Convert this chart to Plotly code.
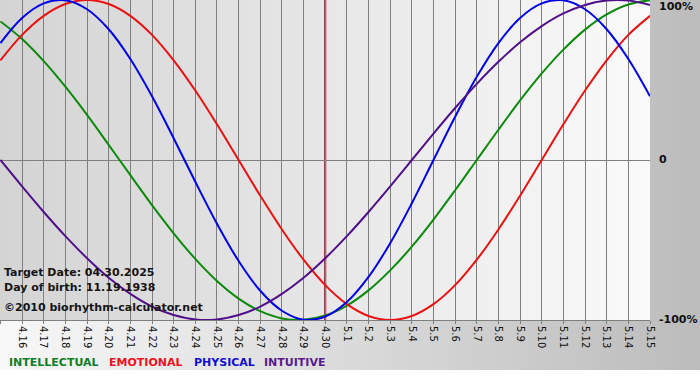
import plotly.graph_objects as go

# ---------------- data ----------------
day_labels = ["4.15", "4.16", "4.17", "4.18", "4.19", "4.20", "4.21", "4.22",
              "4.23", "4.24", "4.25", "4.26", "4.27", "4.28", "4.29", "4.30",
              "5.1", "5.2", "5.3", "5.4", "5.5", "5.6", "5.7", "5.8", "5.9",
              "5.10", "5.11", "5.12", "5.13", "5.14", "5.15"]

intellectual = [86.6, 75.6, 61.8, 45.8, 28.2, 9.5, -9.5, -28.2, -45.8, -61.8,
                -75.6, -86.6, -94.5, -99.0, -99.9, -97.2, -91.0, -81.5, -69.0,
                -54.1, -37.2, -18.9, 0.0, 18.9, 37.2, 54.1, 69.0, 81.5, 91.0,
                97.2, 99.9]
emotional = [62.3, 78.2, 90.1, 97.5, 100.0, 97.5, 90.1, 78.2, 62.3, 43.4,
             22.3, 0.0, -22.3, -43.4, -62.3, -78.2, -90.1, -97.5, -100.0,
             -97.5, -90.1, -78.2, -62.3, -43.4, -22.3, 0.0, 22.3, 43.4, 62.3,
             78.2, 90.1]
physical = [73.1, 88.8, 97.9, 99.8, 94.2, 81.7, 63.1, 39.8, 13.6, -13.6,
            -39.8, -63.1, -81.7, -94.2, -99.8, -97.9, -88.8, -73.1, -52.0,
            -27.0, 0.0, 27.0, 52.0, 73.1, 88.8, 97.9, 99.8, 94.2, 81.7, 63.1,
            39.8]
intuitive = [0.0, -16.5, -32.5, -47.6, -61.4, -73.6, -83.7, -91.6, -96.9,
             -99.7, -99.7, -96.9, -91.6, -83.7, -73.6, -61.4, -47.6, -32.5,
             -16.5, 0.0, 16.5, 32.5, 47.6, 61.4, 73.6, 83.7, 91.6, 96.9, 99.7,
             99.7, 96.9]

target_label = "4.30"
y_tick_values = [100, 0, -100]
y_tick_labels = ["100%", "0", "-100%"]
legend_names = ["INTELLECTUAL", "EMOTIONAL", "PHYSICAL", "INTUITIVE"]
info_lines = ["Target Date: 04.30.2025", "Day of birth: 11.19.1938",
              "\u00a92010 biorhythm-calculator.net"]

# ---------------- styling ----------------
W, H = 700, 380
PW, PH = 650, 320  # plot area in px
FONT = "DejaVu Sans, Verdana, sans-serif"

def px_x(px):
    return px / PW

def px_y(py):
    return (PH - py) / PH

x_idx = list(range(len(day_labels)))
target_x = day_labels.index(target_label)

curve_colors = ["#0a8a0a", "#e81010", "#0000e6", "#50108a"]
legend_colors = ["#0f7d28", "#ee1122", "#1010cc", "#5a1a8c"]
series = [intellectual, emotional, physical, intuitive]

fig = go.Figure()
for name, vals, col in zip(legend_names, series, curve_colors):
    fig.add_trace(go.Scatter(x=x_idx, y=vals, mode="lines", name=name,
                             line=dict(color=col, width=2, shape="spline"),
                             hoverinfo="skip", showlegend=False))

shapes = []
# outer gradient (light left -> gray right), 0..700 px, 0..370 px
n_out = 70
for i in range(n_out):
    x0 = i * W / n_out
    x1 = (i + 1) * W / n_out + 0.6
    c = int(round(248 - (248 - 188) * (x0 + W / n_out / 2) / W))
    shapes.append(dict(type="rect", xref="paper", yref="paper",
                       x0=px_x(x0), x1=px_x(x1), y0=px_y(370), y1=px_y(0),
                       fillcolor=f"rgb({c},{c},{c})", line=dict(width=0),
                       layer="below"))
# plot-area gradient (gray left -> white right)
n_in = 65
span = len(day_labels) - 1
x_lo = -0.02
for i in range(n_in):
    x0 = x_lo + i * (span - x_lo) / n_in
    x1 = x_lo + (i + 1) * (span - x_lo) / n_in + 0.03
    c = int(round(212 + (250 - 212) * (i + 0.5) / n_in))
    shapes.append(dict(type="rect", xref="x", yref="paper",
                       x0=x0, x1=min(x1, span), y0=0, y1=1,
                       fillcolor=f"rgb({c},{c},{c})", line=dict(width=0),
                       layer="below"))
# target date line
shapes.append(dict(type="line", xref="x", yref="paper", x0=target_x, x1=target_x,
                   y0=0, y1=1, line=dict(color="#7a1616", width=2),
                   layer="between"))

annotations = []
# right y labels
y_shift = {100: -6, 0: 1, -100: 1}
for v, t in zip(y_tick_values, y_tick_labels):
    annotations.append(dict(text=t, xref="paper", yref="y", x=px_x(657), y=v,
                            xanchor="left", yanchor="middle", showarrow=False,
                            yshift=y_shift[v],
                            font=dict(family=FONT, size=11, color="#111111",
                                      weight="bold")))
# info texts
info_y = [272, 287, 307]
for t, py in zip(info_lines, info_y):
    annotations.append(dict(text=t, xref="paper", yref="paper", x=px_x(2),
                            y=px_y(py), xanchor="left", yanchor="middle",
                            showarrow=False,
                            font=dict(family=FONT, size=11, color="#151515",
                                      weight="bold")))
# legend texts
legend_x = [7, 107, 192, 262]
for t, px, col in zip(legend_names, legend_x, legend_colors):
    annotations.append(dict(text=t, xref="paper", yref="paper", x=px_x(px),
                            y=px_y(362), xanchor="left", yanchor="middle",
                            showarrow=False,
                            font=dict(family=FONT, size=11, color=col,
                                      weight="bold")))

fig.update_layout(
    width=W, height=H,
    margin=dict(l=0, r=W - PW, t=0, b=H - PH, pad=0, autoexpand=False),
    paper_bgcolor="#ffffff", plot_bgcolor="rgba(0,0,0,0)",
    shapes=shapes, annotations=annotations,
    xaxis=dict(range=[x_lo, span], tickmode="array", tickvals=x_idx,
               ticktext=day_labels, tickangle=90, showgrid=True,
               gridcolor="#7f7f7f", gridwidth=1, zeroline=False,
               showline=True, linecolor="#7f7f7f", linewidth=1,
               ticks="outside", ticklen=3, tickcolor="#7f7f7f",
               tickfont=dict(family=FONT, size=10, color="#111111"),
               fixedrange=True, automargin=False),
    yaxis=dict(range=[-100, 100], showgrid=False, zeroline=True,
               zerolinecolor="#7f7f7f", zerolinewidth=1,
               showticklabels=False, ticks="", fixedrange=True,
               automargin=False),
    showlegend=False,
)

fig.write_html("out.html",
               config={"displayModeBar": False, "staticPlot": True},
               post_script="document.body.style.margin='0';"
                           "document.body.style.overflow='hidden';")
